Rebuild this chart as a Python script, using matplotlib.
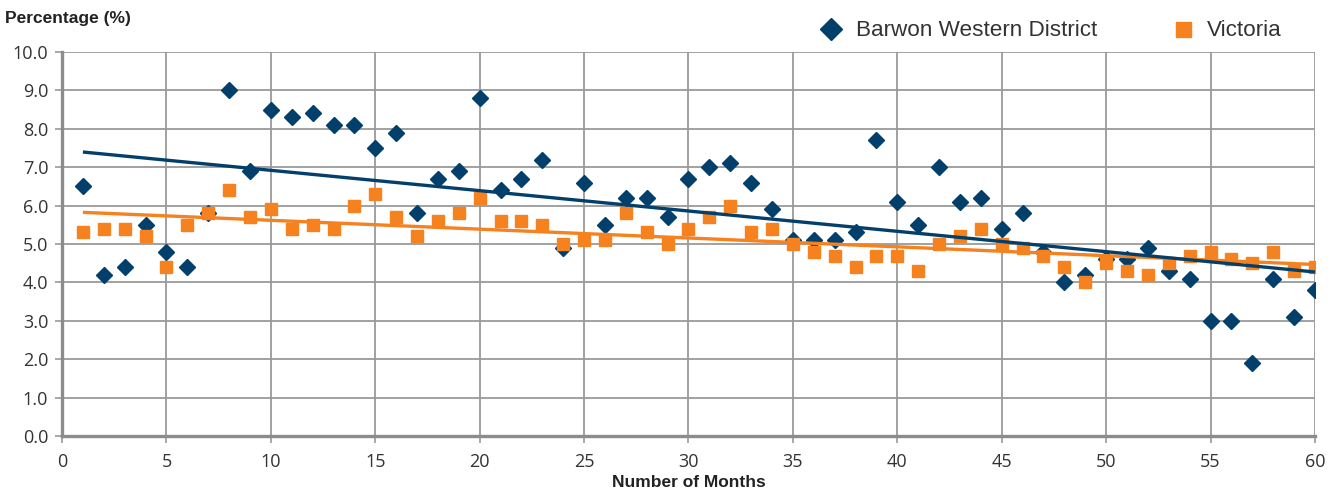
import numpy as np
import matplotlib
matplotlib.use("Agg")
import matplotlib.pyplot as plt
from matplotlib.ticker import FormatStrFormatter

## Data
months = list(range(1, 61))

barwon = [6.5, 4.2, 4.4, 5.5, 4.8, 4.4, 5.8, 9.0, 6.9, 8.5,
          8.3, 8.4, 8.1, 8.1, 7.5, 7.9, 5.8, 6.7, 6.9, 8.8,
          6.4, 6.7, 7.2, 4.9, 6.6, 5.5, 6.2, 6.2, 5.7, 6.7,
          7.0, 7.1, 6.6, 5.9, 5.1, 5.1, 5.1, 5.3, 7.7, 6.1,
          5.5, 7.0, 6.1, 6.2, 5.4, 5.8, 4.8, 4.0, 4.2, 4.6,
          4.6, 4.9, 4.3, 4.1, 3.0, 3.0, 1.9, 4.1, 3.1, 3.8]

victoria = [5.3, 5.4, 5.4, 5.2, 4.4, 5.5, 5.8, 6.4, 5.7, 5.9,
            5.4, 5.5, 5.4, 6.0, 6.3, 5.7, 5.2, 5.6, 5.8, 6.2,
            5.6, 5.6, 5.5, 5.0, 5.1, 5.1, 5.8, 5.3, 5.0, 5.4,
            5.7, 6.0, 5.3, 5.4, 5.0, 4.8, 4.7, 4.4, 4.7, 4.7,
            4.3, 5.0, 5.2, 5.4, 5.0, 4.9, 4.7, 4.4, 4.0, 4.5,
            4.3, 4.2, 4.5, 4.7, 4.8, 4.6, 4.5, 4.8, 4.3, 4.4]

series_names = ["Barwon Western District", "Victoria"]

blue = "#033f6b"
orange = "#f5821f"
grid_col = "#9a9a9a"
tick_font = ["Open Sans", "DejaVu Sans"]
label_font = ["Liberation Sans", "DejaVu Sans"]

fig = plt.figure(figsize=(13.4, 4.92), dpi=100)
ax = fig.add_axes([0.0463, 0.1138, 0.9350, 0.7805])

x = np.array(months)
ax.plot(x, barwon, linestyle="none", marker="D", markersize=8.5,
        color=blue, label=series_names[0], zorder=3)
ax.plot(x, victoria, linestyle="none", marker="s", markersize=8,
        color=orange, label=series_names[1], zorder=4)

# linear trend lines
for vals, col in [(victoria, orange), (barwon, blue)]:
    p = np.polyfit(x, vals, 1)
    ax.plot([x[0], x[-1]], np.polyval(p, [x[0], x[-1]]), color=col,
            linewidth=2.4, zorder=5, solid_capstyle="butt")

ax.set_xlim(0, 60)
ax.set_ylim(0, 10)
ax.set_xticks(range(0, 61, 5))
ax.set_yticks(range(0, 11))
ax.yaxis.set_major_formatter(FormatStrFormatter("%.1f"))

ax.grid(True, color=grid_col, linewidth=1.3, zorder=0)
ax.set_axisbelow(True)
for s in ["top", "right"]:
    ax.spines[s].set_visible(False)
for s in ["left", "bottom"]:
    ax.spines[s].set_color("#8c8c8c")
    ax.spines[s].set_linewidth(2.4)
ax.tick_params(axis="both", direction="out", length=5, width=1.2,
               color=grid_col, labelsize=13, labelcolor="#333333")
ax.tick_params(axis="x", pad=7)
ax.tick_params(axis="y", pad=5)
for lbl in ax.get_xticklabels() + ax.get_yticklabels():
    lbl.set_family(tick_font)

ax.set_xlabel("Number of Months", fontsize=12.5, fontweight="bold",
              family=label_font, color="#222222", labelpad=3)
fig.text(0.004, 0.962, "Percentage (%)", fontsize=12.5, fontweight="bold",
         family=label_font, color="#222222", va="center", ha="left")

leg = ax.legend(loc="center right", bbox_to_anchor=(0.981, 1.055), ncol=2,
                frameon=False, columnspacing=3.2, handlelength=1.2,
                handletextpad=0.5, borderaxespad=0, markerscale=1.35,
                prop={"family": label_font, "size": 16.2})
for t in leg.get_texts():
    t.set_color("#333333")

fig.savefig("out.png", dpi=100)
